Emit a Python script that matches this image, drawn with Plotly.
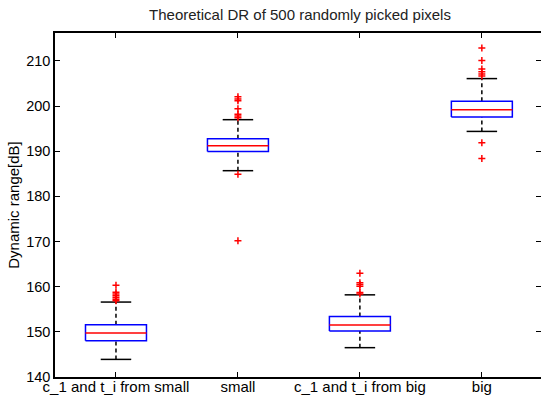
import plotly.graph_objects as go

categories = ["c_1 and t_i from small", "small", "c_1 and t_i from big", "big"]
positions = [1, 2, 3, 4]
q1 = [148.05, 189.96, 150.2, 197.6]
median = [149.76, 191.2, 151.5, 199.2]
q3 = [151.6, 192.8, 153.4, 201.1]
lower_whisker = [143.9, 185.7, 146.5, 194.4]
upper_whisker = [156.6, 197.0, 158.2, 206.1]
outliers = [
    [160.3, 158.8, 158.4, 158.0, 157.6, 157.2, 156.9],
    [202.1, 201.6, 201.2, 199.4, 198.2, 197.8, 197.4, 184.9, 170.2],
    [163.0, 160.9, 160.5, 160.1, 158.7, 158.4],
    [212.9, 210.1, 208.2, 207.6, 207.1, 206.7, 191.9, 188.4],
]
y_ticks = [140, 150, 160, 170, 180, 190, 200, 210]

box_half = 0.25
cap_half = 0.125

fig = go.Figure()

# whiskers (dashed black)
wx, wy = [], []
for p, lo, hi, a, b in zip(positions, lower_whisker, upper_whisker, q1, q3):
    wx += [p, p, None, p, p, None]
    wy += [lo, a, None, b, hi, None]
fig.add_trace(go.Scatter(x=wx, y=wy, mode="lines",
                         line=dict(color="black", width=1.5, dash="4px,3px"),
                         hoverinfo="skip", showlegend=False))
# caps
cx, cy = [], []
for p, lo, hi in zip(positions, lower_whisker, upper_whisker):
    cx += [p - cap_half, p + cap_half, None, p - cap_half, p + cap_half, None]
    cy += [lo, lo, None, hi, hi, None]
fig.add_trace(go.Scatter(x=cx, y=cy, mode="lines",
                         line=dict(color="black", width=1.5),
                         hoverinfo="skip", showlegend=False))
# boxes
bx, by = [], []
for p, a, b in zip(positions, q1, q3):
    bx += [p - box_half, p + box_half, p + box_half, p - box_half, p - box_half, None]
    by += [a, a, b, b, a, None]
fig.add_trace(go.Scatter(x=bx, y=by, mode="lines",
                         line=dict(color="blue", width=1.5),
                         hoverinfo="skip", showlegend=False))
# medians
mx, my = [], []
for p, m in zip(positions, median):
    mx += [p - box_half, p + box_half, None]
    my += [m, m, None]
fig.add_trace(go.Scatter(x=mx, y=my, mode="lines",
                         line=dict(color="red", width=1.5),
                         hoverinfo="skip", showlegend=False))
# outliers
ox, oy = [], []
for p, vals in zip(positions, outliers):
    ox += [p] * len(vals)
    oy += vals
fig.add_trace(go.Scatter(x=ox, y=oy, mode="markers",
                         marker=dict(symbol="cross-thin", size=5, color="red",
                                     line=dict(color="red", width=1.5)),
                         hoverinfo="skip", showlegend=False))

font = "Liberation Sans, Arial, sans-serif"
fig.update_layout(
    width=541, height=395,
    margin=dict(l=55, r=0, t=33, b=18),
    paper_bgcolor="white", plot_bgcolor="white",
    font=dict(family=font, size=14.5, color="black"),
    title=dict(text="Theoretical DR of 500 randomly picked pixels",
               x=300 / 541, xref="container", xanchor="center",
               y=0.962, yanchor="middle",
               font=dict(family=font, size=15, color="#222")),
    xaxis=dict(range=[0.5, 4.485], tickvals=positions, ticktext=categories,
               showgrid=False, zeroline=False, showline=True, linecolor="black",
               linewidth=1.5, mirror="allticks", ticks="inside", ticklen=5,
               tickcolor="black", tickfont=dict(size=15),
               ticklabelstandoff=-5, automargin=False),
    yaxis=dict(range=[140, 216.2], tickvals=y_ticks,
               showgrid=False, zeroline=False, showline=True, linecolor="black",
               linewidth=1.5, mirror="allticks", ticks="inside", ticklen=5,
               tickcolor="black", tickfont=dict(size=14.5), automargin=False,
               title=dict(text="Dynamic range[dB]", standoff=3,
                          font=dict(size=15))),
)

fig.write_html("out.html")
